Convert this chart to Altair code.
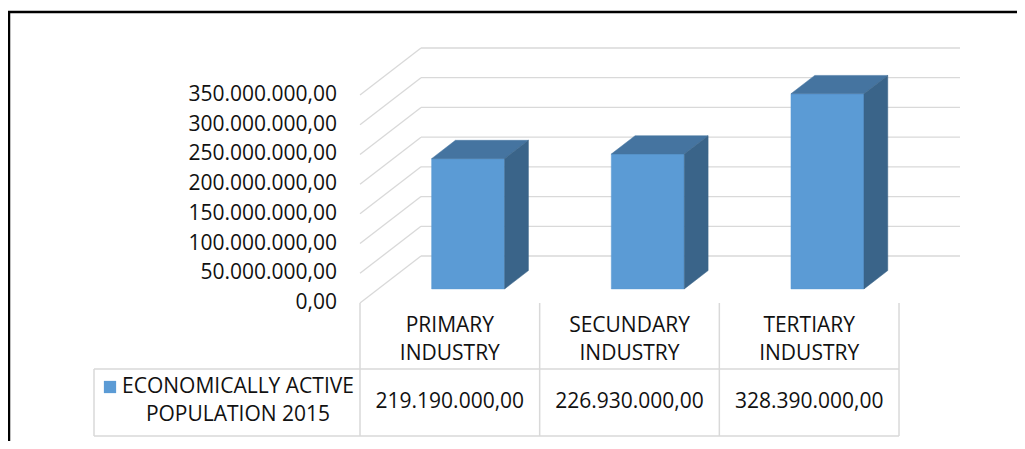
import altair as alt
import pandas as pd

# ---------------- data ----------------
CATEGORIES = ["PRIMARY INDUSTRY", "SECUNDARY INDUSTRY", "TERTIARY INDUSTRY"]
VALUES = [219190000, 226930000, 328390000]
VALUE_LABELS = ["219.190.000,00", "226.930.000,00", "328.390.000,00"]
TICK_VALUES = [0, 50000000, 100000000, 150000000, 200000000, 250000000, 300000000, 350000000]
TICK_LABELS = ["0,00", "50.000.000,00", "100.000.000,00", "150.000.000,00",
               "200.000.000,00", "250.000.000,00", "300.000.000,00", "350.000.000,00"]
SERIES_NAME = "ECONOMICALLY ACTIVE\nPOPULATION 2015"

# ---------------- layout ----------------
W, H = 1009, 433
X0 = 352.0          # pixel of category boundary 0 on the front plane
BAND = 179.67       # pixels per category band
Y0 = 295.0          # pixel of value 0 on the front plane
VPX = 208.0 / 350e6 # pixels per value unit
DEPTH_PX = (61.0, 47.0)
LEGEND_LEFT_PX = 86.0

UMIN, UMAX = -X0 / BAND, (W - X0) / BAND
VMAX, VMIN = Y0 / VPX, -(H - Y0) / VPX
DX = DEPTH_PX[0] / BAND
DY = DEPTH_PX[1] / VPX
F, B = 0.30, 0.69          # bar front / back depth fraction
HW = 36.5 / BAND           # half bar width in band units

XS = alt.Scale(domain=[UMIN, UMAX], nice=False, zero=False)
YS = alt.Scale(domain=[VMIN, VMAX], nice=False, zero=False)

FONT = "Open Sans"
FS = 21
GRID = "#D9D9D9"
FRONT, TOP, SIDE = "#5B9BD5", "#4574A0", "#3A6489"
TXT = "#111111"

def X(f="x"):
    return alt.X(f"{f}:Q", scale=XS, axis=None, stack=None)

def Y(f="y"):
    return alt.Y(f"{f}:Q", scale=YS, axis=None, stack=None)

# ---------------- tables built from the arrays ----------------
n = len(CATEGORIES)
ticks = pd.DataFrame({"v": TICK_VALUES, "label": TICK_LABELS})
ticks["bx"] = 0 + DX
ticks["bx2"] = n + DX
ticks["by"] = ticks["v"] + DY
ticks["lx"] = 0.0
ticks["lx2"] = DX

front_rows, top_rows, side_rows = [], [], []
for i, (c, v) in enumerate(zip(CATEGORIES, VALUES)):
    uc = i + 0.5
    front_rows.append({"cat": c, "x": uc - HW + F * DX, "x2": uc + HW + F * DX,
                       "y": F * DY, "y2": v + F * DY})
    for d in (F, B):
        top_rows.append({"cat": c, "y": v + d * DY, "x": uc - HW + d * DX, "x2": uc + HW + d * DX})
        side_rows.append({"cat": c, "x": uc + HW + d * DX, "y": d * DY, "y2": v + d * DY})
front = pd.DataFrame(front_rows)
top = pd.DataFrame(top_rows)
side = pd.DataFrame(side_rows)

cols = pd.DataFrame({"cat": CATEGORIES, "u": [i + 0.5 for i in range(n)], "label": VALUE_LABELS})
bounds = pd.DataFrame({"u": list(range(n + 1)), "zero": [0] * (n + 1)})
ul = (LEGEND_LEFT_PX - X0) / BAND
hlines = pd.DataFrame({"ul": [ul, ul], "u": [float(n), float(n)], "row": [361, 428]})
one = pd.DataFrame({"a": [0]})

# ---------------- layers ----------------
back_grid = alt.Chart(ticks).mark_rule(color=GRID, strokeWidth=1.3).encode(
    x=X("bx"), x2="bx2:Q", y=Y("by"))
left_grid = alt.Chart(ticks).mark_rule(color=GRID, strokeWidth=1.3).encode(
    x=X("lx"), x2="lx2:Q", y=Y("v"), y2="by:Q")

front_face = alt.Chart(front).mark_rect(color=FRONT, stroke=FRONT, strokeWidth=0.5).encode(
    x=X("x"), x2="x2:Q", y=Y("y"), y2="y2:Q")
top_face = alt.Chart(top).mark_area(orient="horizontal", color=TOP, stroke=TOP, strokeWidth=0.5).encode(
    y=Y("y"), x=X("x"), x2="x2:Q", detail="cat:N")
side_face = alt.Chart(side).mark_area(orient="vertical", color=SIDE, stroke=SIDE, strokeWidth=0.5).encode(
    x=X("x"), y=Y("y"), y2="y2:Q", detail="cat:N")

ylabels = alt.Chart(ticks).mark_text(font=FONT, fontSize=FS, align="right", baseline="middle",
                                     dx=-23, color=TXT).encode(
    x=X("lx"), y=Y("v"), text="label:N")

# data table
vlines = alt.Chart(bounds).mark_rule(color=GRID, strokeWidth=1.5).encode(
    x=X("u"), y=Y("zero"), y2=alt.value(428))
hl = alt.Chart(hlines).mark_rule(color=GRID, strokeWidth=1.5).encode(
    x=X("ul"), x2="u:Q", y=alt.Y("row:Q", scale=None, axis=None))
legend_left = alt.Chart(one).mark_rule(color=GRID, strokeWidth=1.5).encode(
    x=alt.value(LEGEND_LEFT_PX), y=alt.value(361), y2=alt.value(428))

headers = alt.Chart(cols).mark_text(font=FONT, fontSize=FS, align="center", baseline="middle",
                                    lineBreak=" ", lineHeight=28, color=TXT).encode(
    x=X("u"), y=alt.value(318), text="cat:N")
values_txt = alt.Chart(cols).mark_text(font=FONT, fontSize=FS, align="center", baseline="middle",
                                       color=TXT).encode(
    x=X("u"), y=alt.value(394), text="label:N")

legend_sym = alt.Chart(one).mark_square(size=150, color=FRONT, opacity=1, filled=True).encode(
    x=alt.value(102), y=alt.value(379))
legend_txt = alt.Chart(pd.DataFrame({"name": [SERIES_NAME]})).mark_text(
    font=FONT, fontSize=FS, align="center", baseline="middle", lineBreak="\n",
    lineHeight=28, color=TXT).encode(
    x=alt.value(230), y=alt.value(379), text="name:N")

# chart frame
frame_top = alt.Chart(one).mark_rule(color="black", strokeWidth=2.5).encode(
    x=alt.value(0), x2=alt.value(W), y=alt.value(4))
frame_left = alt.Chart(one).mark_rule(color="black", strokeWidth=2.5).encode(
    x=alt.value(1), y=alt.value(3), y2=alt.value(H))

chart = alt.layer(
    back_grid, left_grid, front_face, top_face, side_face, ylabels,
    vlines, hl, legend_left, headers, values_txt, legend_sym, legend_txt,
    frame_top, frame_left,
).properties(
    width=W, height=H, padding=0,
    autosize=alt.AutoSizeParams(type="none"),
    background="white",
).configure_view(strokeWidth=0)

chart.save("out.html", embed_options={"renderer": "svg", "actions": False})
